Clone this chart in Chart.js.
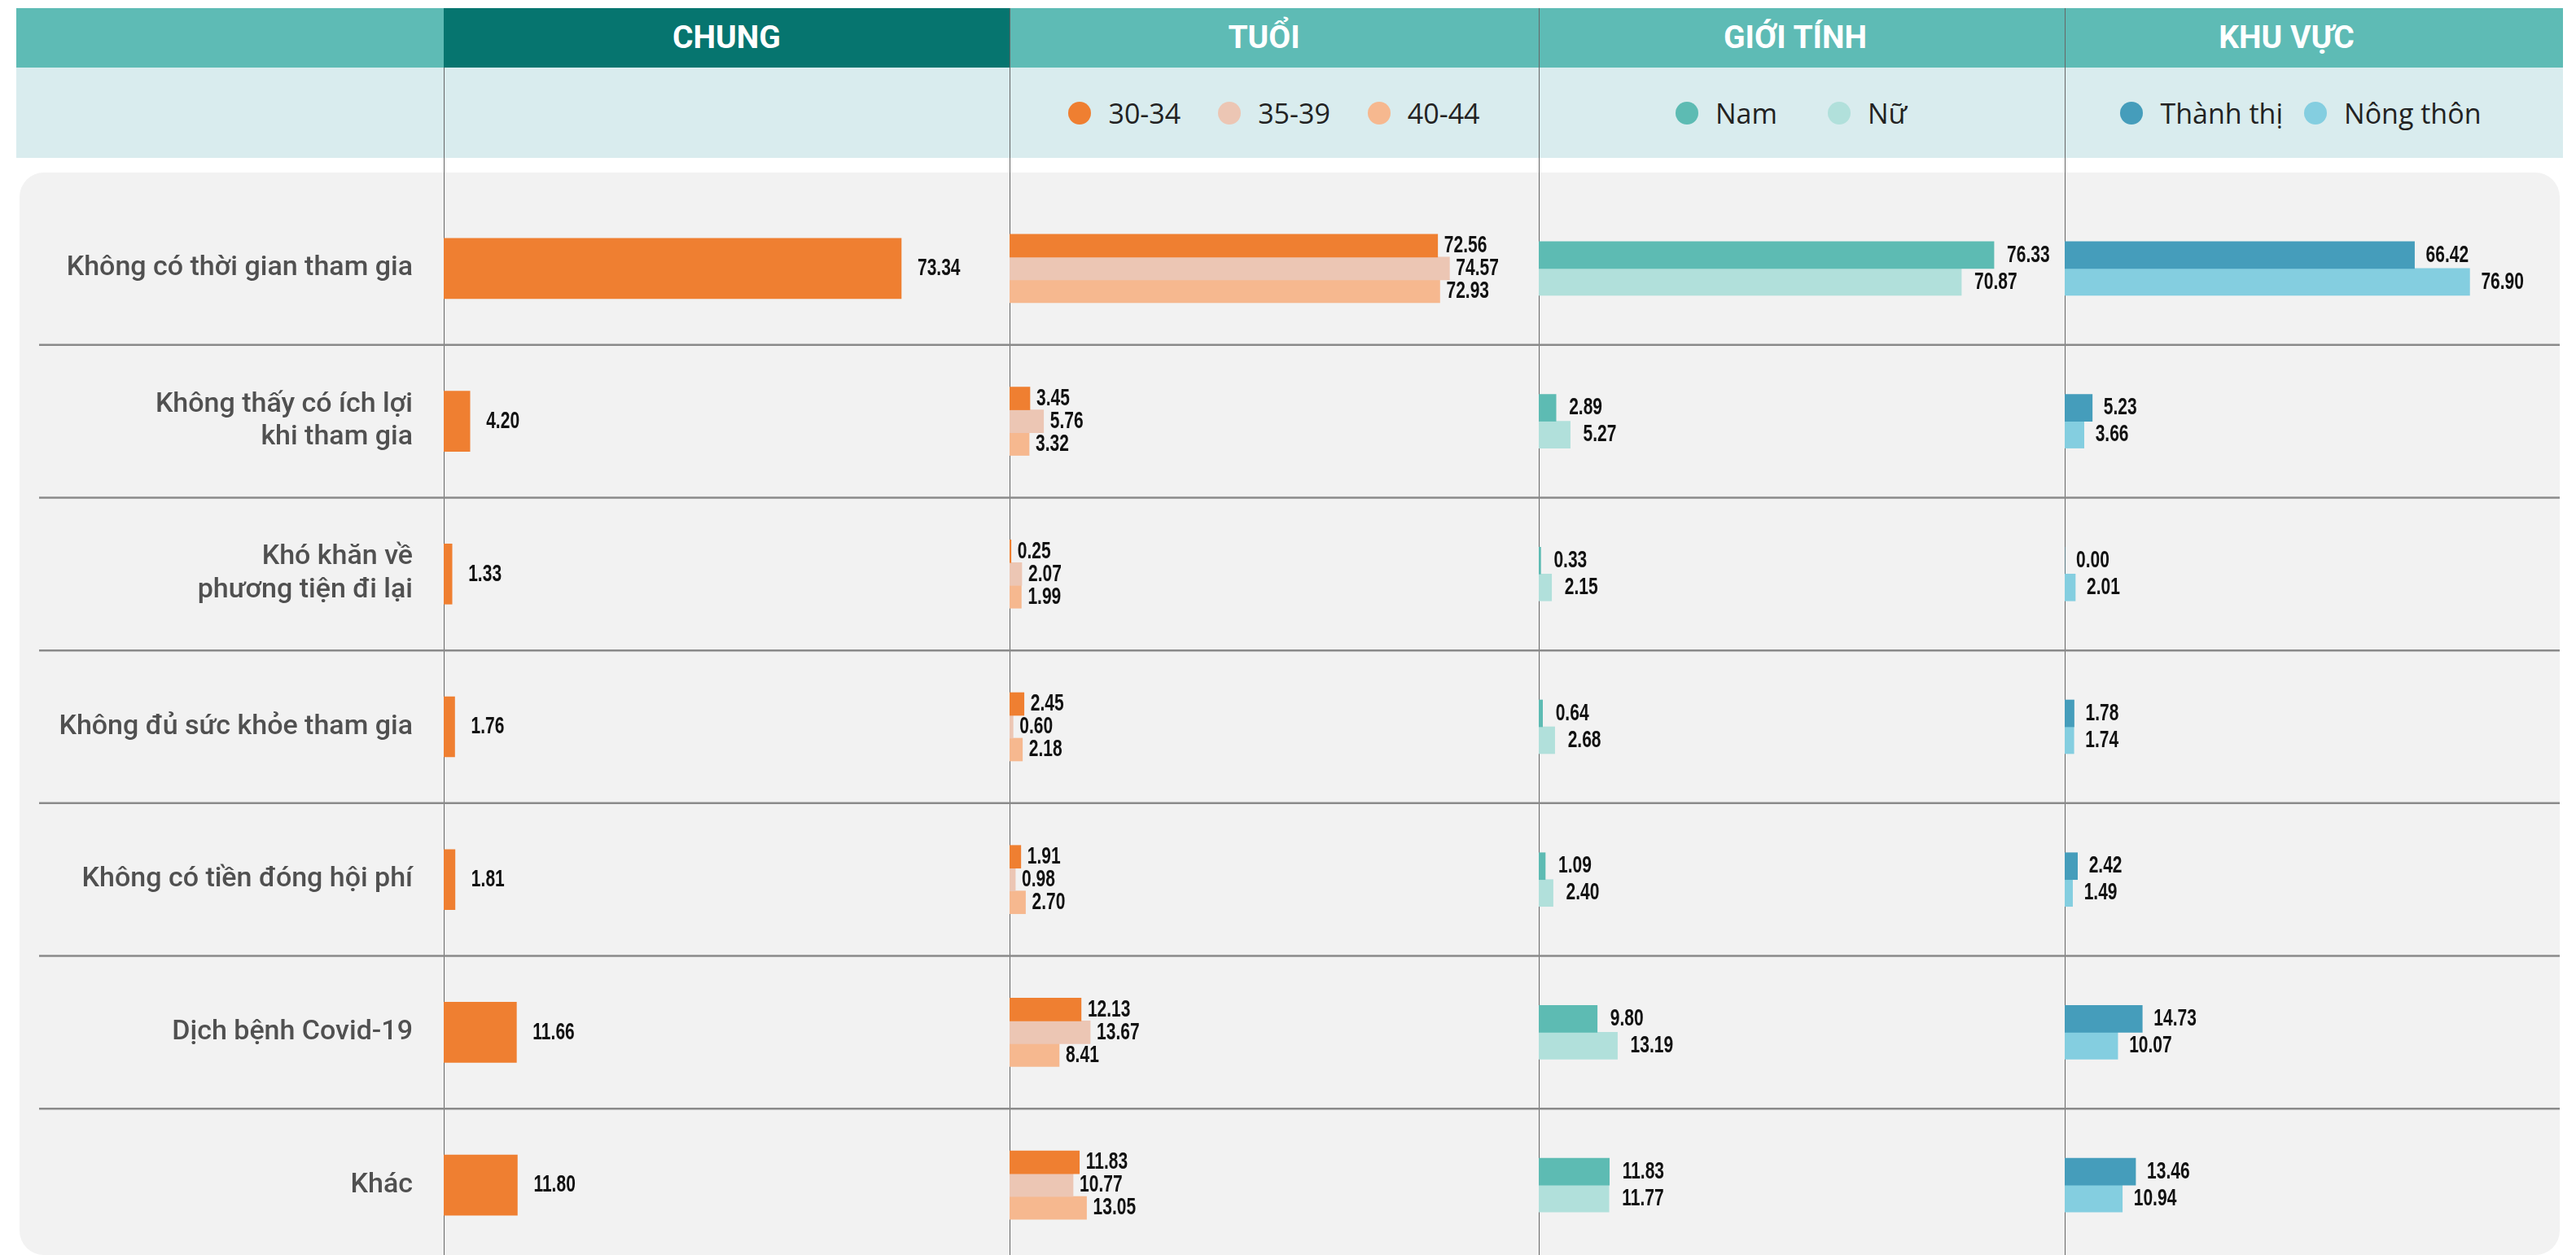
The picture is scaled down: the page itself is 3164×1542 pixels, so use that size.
<!DOCTYPE html>
<html>
<head>
    <meta charset="utf-8">
    <title>Lý do không tham gia</title>
    <script src="https://cdn.jsdelivr.net/npm/chart.js"></script>
    <style>
        body { margin: 0; background: #fff; overflow: hidden; }
        #page { position: relative; width: 3164px; height: 1542px; overflow: hidden; font-family: Roboto, sans-serif; }
        .abs { position: absolute; }
        .head { top: 10px; height: 73px; font: 700 39px Roboto, sans-serif; line-height: 73px; color: #fff; text-align: center; }
        .legend { top: 83px; height: 111px; display: flex; align-items: center; justify-content: center; font: 34px "Open Sans", sans-serif; color: #222; }
        .legend .item { display: flex; align-items: center; }
        .legend .dot { width: 28px; height: 28px; border-radius: 50%; margin-right: 21px; }
        .vline { width: 1px; background: #666; }
    </style>
</head>
<body>
<div id="page">
    <div class="abs" style="left:20px; top:10px; width:3128px; height:73px; background:#5EBBB5;"></div>
    <div class="abs" style="left:545px; top:10px; width:695px; height:73px; background:#06756F;"></div>
    <div class="abs" style="left:20px; top:83px; width:3128px; height:111px; background:#D9ECEE;"></div>
    <div class="abs" style="left:24px; top:212px; width:3120px; height:1330px; background:#F2F2F2; border-radius:30px;"></div>

    <div class="abs head" style="left:545px; width:695px;">CHUNG</div>
    <div class="abs head" style="left:1240px; width:625px;">TUỔI</div>
    <div class="abs head" style="left:1890px; width:630px;">GIỚI TÍNH</div>
    <div class="abs head" style="left:2536px; width:545px;">KHU VỰC</div>

    <div class="abs legend" id="ageLegend" style="left:1240px; width:650px; gap:46px;"></div>
    <div class="abs legend" id="genderLegend" style="left:1890px; width:620px; gap:62px;"></div>
    <div class="abs legend" id="areaLegend" style="left:2536px; width:580px; gap:26px;"></div>

    <div class="abs vline" style="left:545px; top:83px; height:1459px;"></div>
    <div class="abs vline" style="left:1240px; top:10px; height:1532px;"></div>
    <div class="abs vline" style="left:1890px; top:10px; height:1532px;"></div>
    <div class="abs vline" style="left:2536px; top:10px; height:1532px;"></div>

    <canvas class="abs" id="chungChart" width="1240" height="1314" style="left:0; top:236px;"></canvas>
    <canvas class="abs" id="ageChart" width="650" height="1314" style="left:1240px; top:236px;"></canvas>
    <canvas class="abs" id="genderChart" width="646" height="1314" style="left:1890px; top:236px;"></canvas>
    <canvas class="abs" id="areaChart" width="608" height="1314" style="left:2536px; top:236px;"></canvas>
</div>

<script>
    // reasons (rows)
    var reasons = [
        'Không có thời gian tham gia',
        ['Không thấy có ích lợi', 'khi tham gia'],
        ['Khó khăn về', 'phương tiện đi lại'],
        'Không đủ sức khỏe tham gia',
        'Không có tiền đóng hội phí',
        'Dịch bệnh Covid-19',
        'Khác'
    ];

    // CHUNG
    var chungValues = [73.34, 4.20, 1.33, 1.76, 1.81, 11.66, 11.80];

    // TUỔI
    var ageLabels = ['30-34', '35-39', '40-44'];
    var age3034 = [72.56, 3.45, 0.25, 2.45, 1.91, 12.13, 11.83];
    var age3539 = [74.57, 5.76, 2.07, 0.60, 0.98, 13.67, 10.77];
    var age4044 = [72.93, 3.32, 1.99, 2.18, 2.70, 8.41, 13.05];

    // GIỚI TÍNH
    var genderLabels = ['Nam', 'Nữ'];
    var maleValues = [76.33, 2.89, 0.33, 0.64, 1.09, 9.80, 11.83];
    var femaleValues = [70.87, 5.27, 2.15, 2.68, 2.40, 13.19, 11.77];

    // KHU VỰC
    var areaLabels = ['Thành thị', 'Nông thôn'];
    var urbanValues = [66.42, 5.23, 0.00, 1.78, 2.42, 14.73, 13.46];
    var ruralValues = [76.90, 3.66, 2.01, 1.74, 1.49, 10.07, 10.94];

    // value labels at the end of each bar (squeezed to look condensed)
    var barValues = {
        id: 'barValues',
        afterDatasetsDraw: function (chart, args, opts) {
            var ctx = chart.ctx;
            chart.data.datasets.forEach(function (ds, i) {
                chart.getDatasetMeta(i).data.forEach(function (bar, j) {
                    ctx.save();
                    ctx.font = 'bold 30px "Liberation Sans", Arial, sans-serif';
                    ctx.fillStyle = '#111';
                    ctx.textBaseline = 'middle';
                    ctx.translate(bar.x + opts.gap, bar.y);
                    ctx.scale(0.7, 1);
                    ctx.fillText(ds.data[j].toFixed(2), 0, 0);
                    ctx.restore();
                });
            });
        }
    };

    // horizontal lines between the rows
    var rowLines = {
        id: 'rowLines',
        beforeDatasetsDraw: function (chart, args, opts) {
            var ctx = chart.ctx;
            var y = chart.scales.y;
            ctx.save();
            ctx.strokeStyle = '#8a8a8a';
            ctx.lineWidth = 2.5;
            for (var i = 1; i < chart.data.labels.length; i++) {
                var py = (y.getPixelForTick(i - 1) + y.getPixelForTick(i)) / 2;
                ctx.beginPath();
                ctx.moveTo(opts.from, py);
                ctx.lineTo(chart.width, py);
                ctx.stroke();
            }
            ctx.restore();
        }
    };

    function makeChart(id, datasets, xMax, thickness, gap, showLabels) {
        datasets.forEach(function (ds) {
            ds.barThickness = thickness;
            ds.borderWidth = 0;
        });
        return new Chart(document.getElementById(id), {
            type: 'bar',
            data: { labels: reasons, datasets: datasets },
            plugins: [rowLines, barValues],
            options: {
                indexAxis: 'y',
                responsive: false,
                animation: false,
                layout: { padding: 0 },
                scales: {
                    x: { display: false, min: 0, max: xMax },
                    y: {
                        display: showLabels,
                        grid: { display: false },
                        border: { display: false },
                        ticks: {
                            padding: 30,
                            color: '#505050',
                            font: { family: 'Roboto', size: 34, weight: '500' },
                            lineHeight: 1.22
                        },
                        afterFit: function (scale) {
                            scale.width = showLabels ? 545 : 0;
                            scale.paddingTop = 0;
                            scale.paddingBottom = 0;
                        }
                    }
                },
                plugins: {
                    legend: { display: false },
                    tooltip: { enabled: false },
                    rowLines: { from: showLabels ? 48 : 0 },
                    barValues: { gap: gap }
                }
            }
        });
    }

    function htmlLegend(chart, id) {
        var box = document.getElementById(id);
        chart.data.datasets.forEach(function (ds) {
            var item = document.createElement('div');
            item.className = 'item';
            item.innerHTML = '<span class="dot" style="background:' + ds.backgroundColor + '"></span>' + ds.label;
            box.appendChild(item);
        });
    }

    makeChart('chungChart', [
        { label: 'Chung', data: chungValues, backgroundColor: '#EF7F31' }
    ], 90.7, 74, 20, true);

    var ageChart = makeChart('ageChart', [
        { label: ageLabels[0], data: age3034, backgroundColor: '#EF7F31' },
        { label: ageLabels[1], data: age3539, backgroundColor: '#ECC6B4' },
        { label: ageLabels[2], data: age4044, backgroundColor: '#F6B88F' }
    ], 89.7, 28, 8, false);

    var genderChart = makeChart('genderChart', [
        { label: genderLabels[0], data: maleValues, backgroundColor: '#5DBBB3' },
        { label: genderLabels[1], data: femaleValues, backgroundColor: '#B1E0DB' }
    ], 88.2, 33, 16, false);

    var areaChart = makeChart('areaChart', [
        { label: areaLabels[0], data: urbanValues, backgroundColor: '#459DBB' },
        { label: areaLabels[1], data: ruralValues, backgroundColor: '#84CEE0' }
    ], 94, 33, 14, false);

    htmlLegend(ageChart, 'ageLegend');
    htmlLegend(genderChart, 'genderLegend');
    htmlLegend(areaChart, 'areaLegend');
</script>
</body>
</html>
